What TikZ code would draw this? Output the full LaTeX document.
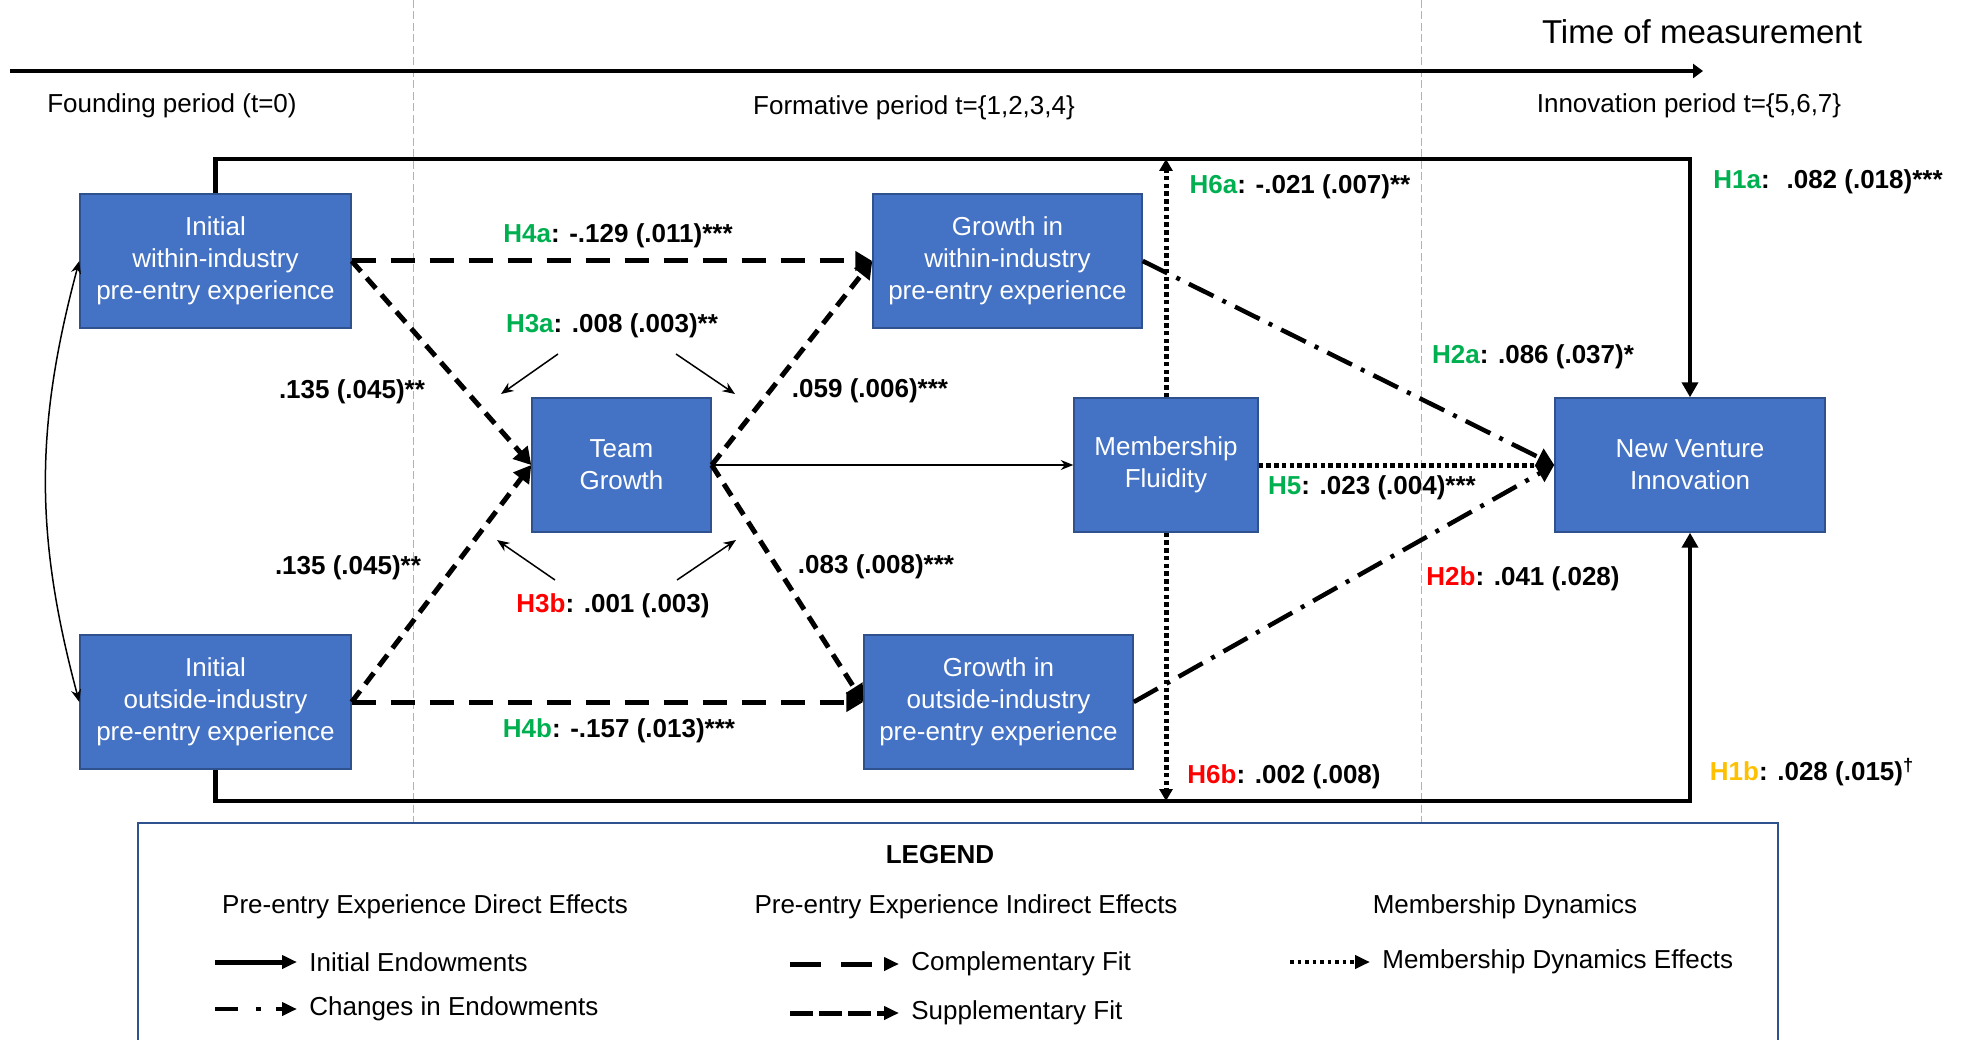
\documentclass[tikz,border=0pt]{standalone}
\usepackage{fontspec}
\setmainfont{Liberation Sans}
\usepackage{tikz}
\usetikzlibrary{arrows.meta}
\definecolor{boxblue}{RGB}{68,114,196}
\definecolor{boxline}{RGB}{47,82,143}
\definecolor{hgreen}{RGB}{0,176,80}
\definecolor{hred}{RGB}{255,0,0}
\definecolor{hgold}{RGB}{255,192,0}
\newcommand{\hyp}[2]{\textcolor{#1}{#2}}

\begin{document}
\begin{tikzpicture}[x=0.02cm, y=-0.02cm,
    txt/.style={font=\fontsize{14.8}{18.2}\selectfont, inner sep=0pt},
    lbl/.style={font=\fontsize{14.8}{18.2}\selectfont\bfseries, inner sep=0pt},
    item/.style={txt, anchor=west, inner xsep=0.24cm},
    box/.style={draw=boxline, line width=0.03cm, fill=boxblue, text=white, align=center,
      inner sep=0pt, minimum height=2.68cm, font=\fontsize{14.8}{18.2}\selectfont},
    endow/.style={line width=0.09cm, -{Triangle[length=0.3cm,width=0.32cm]}},
    change/.style={line width=0.09cm, dash pattern=on 0.55cm off 0.2cm on 0.08cm off 0.2cm,
      -{Triangle[length=0.34cm,width=0.38cm]}},
    compfit/.style={line width=0.1cm, dash pattern=on 0.48cm off 0.3cm,
      -{Triangle[length=0.34cm,width=0.38cm]}},
    suppfit/.style={line width=0.1cm, dash pattern=on 0.28cm off 0.17cm,
      -{Triangle[length=0.34cm,width=0.38cm]}},
    member/.style={line width=0.1cm, dash pattern=on 0.09cm off 0.065cm,
      -{Triangle[length=0.24cm,width=0.26cm]}},
    legtip/.style={-{Triangle[length=0.3cm,width=0.26cm]}},
    thinarr/.style={line width=0.03cm, -{Stealth[length=0.25cm,width=0.2cm]}},
    periodline/.style={draw=gray!60, line width=0.02cm, dash pattern=on 0.16cm off 0.07cm}]
  \useasboundingbox (0,0) rectangle (1963,1040);

  % time axis
  \coordinate (t0) at (10,71);
  \coordinate (t1) at (1703,71);
  \coordinate (p1a) at (413,0);
  \coordinate (p1b) at (413,823);
  \coordinate (p2a) at (1421,0);
  \coordinate (p2b) at (1421,823);
  \draw[periodline] (p1a) -- (p1b);
  \draw[periodline] (p2a) -- (p2b);
  \draw[line width=0.08cm, -{Triangle[length=0.2cm,width=0.28cm]}] (t0) -- (t1);
  \node[txt, font=\fontsize{18.8}{22}\selectfont] (tom) at (1702,32) {Time of measurement};
  \node[txt] (found) at (172,106) {Founding period (t=0)};
  \node[txt] (form) at (914,108) {Formative period t=\{1,2,3,4\}};
  \node[txt] (innov) at (1689,106) {Innovation period t=\{5,6,7\}};

  % constructs
  \node[box, minimum width=5.42cm] (iwi) at (215.5,261) {Initial\\within-industry\\pre-entry experience};
  \node[box, minimum width=5.42cm] (iwo) at (215.5,702) {Initial\\outside-industry\\pre-entry experience};
  \node[box, minimum width=3.58cm] (tg) at (621.5,465) {Team\\Growth};
  \node[box, minimum width=5.38cm] (gwi) at (1007.5,261) {Growth in\\within-industry\\pre-entry experience};
  \node[box, minimum width=5.38cm] (gwo) at (998.5,702) {Growth in\\outside-industry\\pre-entry experience};
  \node[box, minimum width=3.68cm] (mf) at (1166,465) {Membership\\Fluidity};
  \node[box, minimum width=5.4cm] (nvi) at (1690,465) {New Venture\\Innovation};

  \coordinate (ftop) at (1690,159);
  \coordinate (fbot) at (1690,801);
  \draw[endow] (iwi.north) |- (ftop) -- (nvi.north);
  \draw[endow] (iwo.south) |- (fbot) -- (nvi.south);
  \draw[line width=0.03cm, {Stealth[length=0.25cm,width=0.2cm]}-{Stealth[length=0.25cm,width=0.2cm]}]
    (iwi.west) to[bend right=15] (iwo.west);

  \draw[compfit] (iwi.east) -- (gwi.west);
  \draw[compfit] (iwo.east) -- (gwo.west);
  \draw[suppfit] (iwi.east) -- (tg.west);
  \draw[suppfit] (iwo.east) -- (tg.west);
  \draw[suppfit] (tg.east) -- (gwi.west);
  \draw[suppfit] (tg.east) -- (gwo.west);
  \draw[thinarr] (tg.east) -- (mf.west);
  \draw[change] (gwi.east) -- (nvi.west);
  \draw[change] (gwo.east) -- (nvi.west);
  \draw[member] (mf.east) -- (nvi.west);
  \draw[member] (mf.north) -- (mf.north |- ftop);
  \draw[member] (mf.south) -- (mf.south |- fbot);

  \coordinate (a3s1) at (558,354);
  \coordinate (a3e1) at (501,394);
  \coordinate (a3s2) at (676,354);
  \coordinate (a3e2) at (735,394);
  \coordinate (b3s1) at (555,580);
  \coordinate (b3e1) at (497,540);
  \coordinate (b3s2) at (677,580);
  \coordinate (b3e2) at (736,540);
  \draw[thinarr] (a3s1) -- (a3e1);
  \draw[thinarr] (a3s2) -- (a3e2);
  \draw[thinarr] (b3s1) -- (b3e1);
  \draw[thinarr] (b3s2) -- (b3e2);

  % estimates
  \node[lbl] (h4a) at (618,236) {\hyp{hgreen}{H4a}: -.129 (.011)***};
  \node[lbl] (h3a) at (612,326) {\hyp{hgreen}{H3a}: .008 (.003)**};
  \node[lbl] (e1) at (352,392) {.135 (.045)**};
  \node[lbl] (e2) at (348,568) {.135 (.045)**};
  \node[lbl] (h3b) at (613,606) {\hyp{hred}{H3b}: .001 (.003)};
  \node[lbl] (h4b) at (619,731) {\hyp{hgreen}{H4b}: -.157 (.013)***};
  \node[lbl] (e3) at (870,391) {.059 (.006)***};
  \node[lbl] (e4) at (876,567) {.083 (.008)***};
  \node[lbl] (h6a) at (1300,187) {\hyp{hgreen}{H6a}: -.021 (.007)**};
  \node[lbl] (h1a) at (1828,182) {\hyp{hgreen}{H1a}:~ .082 (.018)***};
  \node[lbl] (h2a) at (1533,357) {\hyp{hgreen}{H2a}: .086 (.037)*};
  \node[lbl] (h5) at (1372,488) {\hyp{hgreen}{H5}: .023 (.004)***};
  \node[lbl] (h2b) at (1523,579) {\hyp{hred}{H2b}: .041 (.028)};
  \node[lbl] (h6b) at (1284,777) {\hyp{hred}{H6b}: .002 (.008)};
  \node[lbl] (h1b) at (1812,772) {\hyp{hgold}{H1b}: .028 (.015)\textsuperscript{\textdagger}};

  % legend
  \draw[boxline, line width=0.03cm] (138,1041) |- (1778,823) -- (1778,1041);
  \node[lbl] (leg) at (940,855) {LEGEND};
  \node[txt] (hd1) at (425,907) {Pre-entry Experience Direct Effects};
  \node[txt] (hd2) at (966,907) {Pre-entry Experience Indirect Effects};
  \node[txt] (hd3) at (1505,907) {Membership Dynamics};
  \node[item] (le1) at (297,962) {Initial Endowments};
  \node[item] (le2) at (297,1009) {Changes in Endowments};
  \node[item] (le3) at (899,964) {Complementary Fit};
  \node[item] (le4) at (899,1013) {Supplementary Fit};
  \node[item] (le5) at (1370,962) {Membership Dynamics Effects};
  \coordinate (ls1) at (215,962);
  \coordinate (ls2) at (215,1009);
  \coordinate (ls3) at (790,964);
  \coordinate (ls4) at (790,1013);
  \coordinate (ls5) at (1290,962);
  \draw[endow, line width=0.1cm, legtip] (ls1) -- (le1.west);
  \draw[change, legtip, dash pattern=on 0.46cm off 0.36cm on 0.1cm off 0.3cm] (ls2) -- (le2.west);
  \draw[compfit, legtip, dash pattern=on 0.62cm off 0.4cm] (ls3) -- (le3.west);
  \draw[suppfit, legtip, dash pattern=on 0.46cm off 0.12cm] (ls4) -- (le4.west);
  \draw[member, legtip, line width=0.08cm, dash pattern=on 0.07cm off 0.08cm] (ls5) -- (le5.west);
\end{tikzpicture}
\end{document}
